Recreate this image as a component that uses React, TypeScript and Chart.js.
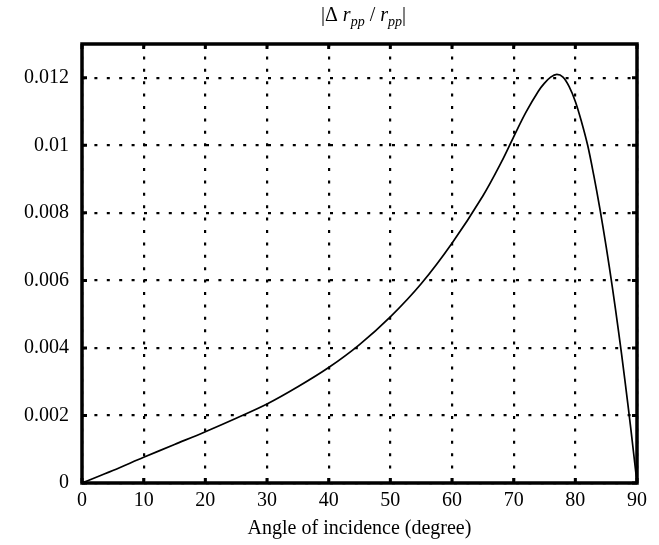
import React, { useEffect, useRef } from "react";
import { Chart, registerables } from "chart.js";

Chart.register(...registerables);

const angles = [0, 5, 10, 15, 20, 25, 30, 35, 40, 45, 50, 55, 60, 65, 68, 70, 72, 74, 75, 76, 77, 78, 79, 80, 81, 82, 83, 84, 85, 86, 87, 88, 89, 90];
const ratioValues = [0, 0.00037, 0.00076, 0.00114, 0.00152, 0.00192, 0.00234, 0.00285, 0.00342, 0.0041, 0.00492, 0.0059, 0.0071, 0.0085, 0.0095, 0.01025, 0.01098, 0.0116, 0.01184, 0.01202, 0.0121, 0.01202, 0.01174, 0.0113, 0.0107, 0.0100, 0.0091, 0.0081, 0.0070, 0.0058, 0.0045, 0.0031, 0.0016, 0];

const xTicks = [0, 10, 20, 30, 40, 50, 60, 70, 80, 90];
const yTicks = [0, 0.002, 0.004, 0.006, 0.008, 0.01, 0.012];
const yTickLabels = ["0", "0.002", "0.004", "0.006", "0.008", "0.01", "0.012"];
const xTitle = "Angle of incidence (degree)";

const FONT_FAMILY = "'Liberation Serif', 'DejaVu Serif', serif";

const framePlugin = {
  id: "frame",
  afterDraw(chart: any) {
    const { ctx, chartArea } = chart;
    const { left, right, top, bottom } = chartArea;
    const xs = chart.scales.x;
    const ys = chart.scales.y;
    ctx.save();
    ctx.strokeStyle = "#000";
    ctx.fillStyle = "#000";
    ctx.lineWidth = 3;
    const tl = 5;
    xTicks.forEach((v) => {
      const px = xs.getPixelForValue(v);
      ctx.beginPath();
      ctx.moveTo(px, bottom);
      ctx.lineTo(px, bottom - tl);
      ctx.moveTo(px, top);
      ctx.lineTo(px, top + tl);
      ctx.stroke();
    });
    yTicks.forEach((v) => {
      const py = ys.getPixelForValue(v);
      ctx.beginPath();
      ctx.moveTo(left, py);
      ctx.lineTo(left + tl, py);
      ctx.moveTo(right, py);
      ctx.lineTo(right - tl, py);
      ctx.stroke();
    });
    ctx.lineWidth = 3.5;
    ctx.strokeRect(left, top, right - left, bottom - top);

    const base = 21;
    const big = "20px " + FONT_FAMILY;
    const bigI = "italic 20px " + FONT_FAMILY;
    const sub = "italic 14px " + FONT_FAMILY;
    const parts: [string, string, number][] = [
      ["|\u0394 ", big, 0],
      ["r", bigI, 0],
      ["pp", sub, 5],
      [" / ", big, 0],
      ["r", bigI, 0],
      ["pp", sub, 5],
      ["|", big, 0],
    ];
    let total = 0;
    parts.forEach(([t, f]) => {
      ctx.font = f;
      total += ctx.measureText(t).width;
    });
    let x = (left + right) / 2 + 4 - total / 2;
    ctx.textBaseline = "alphabetic";
    ctx.textAlign = "left";
    parts.forEach(([t, f, dy]) => {
      ctx.font = f;
      ctx.fillText(t, x, base + dy);
      x += ctx.measureText(t).width;
    });
    ctx.restore();
  },
};

export default function App() {
  const ref = useRef<HTMLCanvasElement>(null);
  useEffect(() => {
    if (!ref.current) return;
    const chart = new Chart(ref.current, {
      type: "line",
      data: {
        datasets: [
          {
            data: angles.map((a, i) => ({ x: a, y: ratioValues[i] })),
            borderColor: "#000",
            borderWidth: 1.7,
            pointRadius: 0,
            fill: false,
            tension: 0.35,
          },
        ],
      },
      options: {
        responsive: false,
        animation: false,
        layout: { padding: { top: 44, right: 22, left: 0, bottom: 0 } },
        plugins: {
          legend: { display: false },
          tooltip: { enabled: false },
          title: { display: false },
        },
        scales: {
          x: {
            type: "linear",
            min: 0,
            max: 90,
            afterBuildTicks: (s: any) => {
              s.ticks = xTicks.map((v) => ({ value: v }));
            },
            afterFit: (s: any) => {
              s.height = 62;
            },
            ticks: {
              color: "#000",
              font: { family: FONT_FAMILY, size: 20 },
              padding: 6,
              maxRotation: 0,
              autoSkip: false,
            },
            grid: { color: "#000", lineWidth: 2.2, drawTicks: false },
            border: { display: false, dash: [3, 9.4] },
            title: {
              display: true,
              text: xTitle,
              color: "#000",
              font: { family: FONT_FAMILY, size: 20 },
              padding: { top: 0, bottom: 4 },
            },
          },
          y: {
            type: "linear",
            min: 0,
            max: 0.013,
            afterBuildTicks: (s: any) => {
              s.ticks = yTicks.map((v) => ({ value: v }));
            },
            afterFit: (s: any) => {
              s.width = 82;
            },
            ticks: {
              color: "#000",
              font: { family: FONT_FAMILY, size: 20 },
              padding: 13,
              autoSkip: false,
              callback: (_v: any, i: number) => yTickLabels[i],
            },
            grid: { color: "#000", lineWidth: 2.2, drawTicks: false },
            border: { display: false, dash: [3, 9.4] },
          },
        },
      },
      plugins: [framePlugin],
    } as any);
    return () => chart.destroy();
  }, []);
  return (
    <div style={{ position: "fixed", left: 0, top: 0, width: 659, height: 545, background: "#fff" }}>
      <canvas ref={ref} width={659} height={545} />
    </div>
  );
}
